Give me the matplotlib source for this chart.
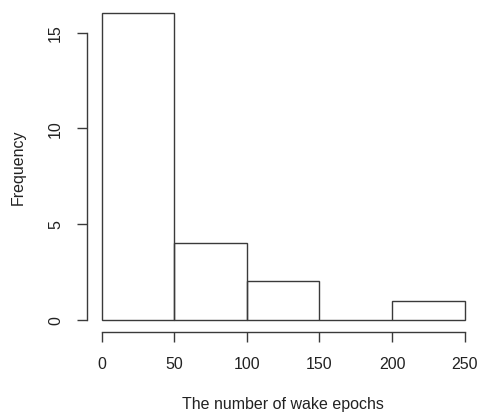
import matplotlib.pyplot as plt

bin_edges = [0, 50, 100, 150, 200, 250]
counts = [16, 4, 2, 0, 1]
x_ticks = [0, 50, 100, 150, 200, 250]
y_ticks = [0, 5, 10, 15]

plt.rcParams['font.family'] = ['Liberation Sans', 'DejaVu Sans']

fig = plt.figure(figsize=(4.78, 4.14), dpi=100)
ax = fig.add_axes([0.1824, 0.1957, 0.8199, 0.799])

line_col = '#3a3a3a'
widths = [bin_edges[i + 1] - bin_edges[i] for i in range(len(counts))]
ax.bar(bin_edges[:-1], counts, width=widths, align='edge', fill=False,
       edgecolor=line_col, linewidth=1.0)

ax.set_xlim(-10, 260)
ax.set_ylim(-0.64, 16.64)

for s in ['top', 'right']:
    ax.spines[s].set_visible(False)
ax.spines['left'].set_bounds(0, 15)
ax.spines['bottom'].set_bounds(0, 250)
for s in ['left', 'bottom']:
    ax.spines[s].set_color(line_col)
    ax.spines[s].set_linewidth(1.0)

ax.set_xticks(x_ticks)
ax.set_yticks(y_ticks)
ax.set_yticklabels([str(v) for v in y_ticks], rotation=90, va='center')
ax.tick_params(axis='both', length=7, width=1.0, color=line_col,
               labelsize=11.5, labelcolor='#222222', pad=10.5)

ax.set_xlabel('The number of wake epochs', fontsize=11.5, color='#222222', labelpad=18)
ax.set_ylabel('Frequency', fontsize=11.5, color='#222222', labelpad=16)

fig.savefig('out.png', dpi=100)
